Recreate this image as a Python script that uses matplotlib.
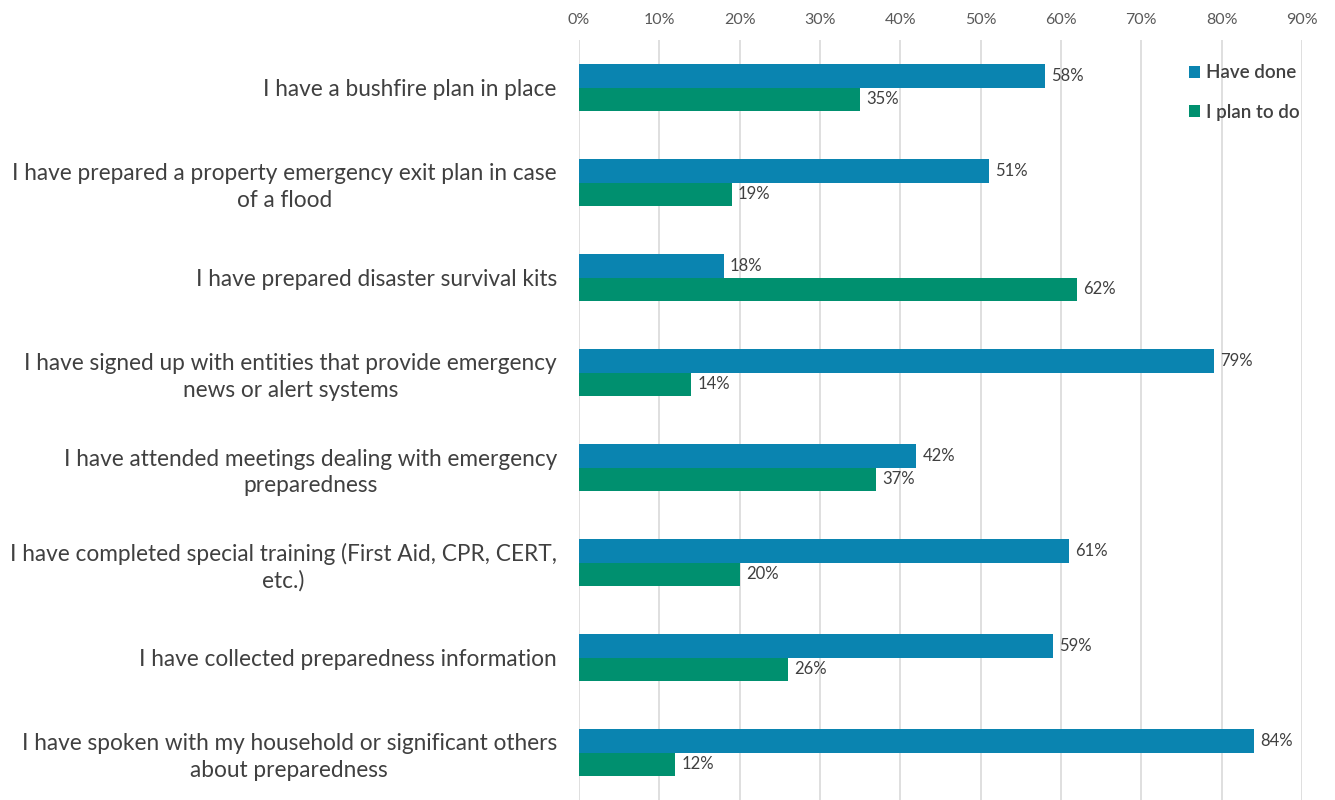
import matplotlib.pyplot as plt
import numpy as np

plt.rcParams['font.family'] = ['Lato', 'DejaVu Sans']

categories = [
    "I have a bushfire plan in place",
    "I have prepared a property emergency exit plan in case\nof a flood",
    "I have prepared disaster survival kits",
    "I have signed up with entities that provide emergency\nnews or alert systems",
    "I have attended meetings dealing with emergency\npreparedness",
    "I have completed special training (First Aid, CPR, CERT,\netc.)",
    "I have collected preparedness information",
    "I have spoken with my household or significant others\nabout preparedness",
]
have_done = [58, 51, 18, 79, 42, 61, 59, 84]
plan_to_do = [35, 19, 62, 14, 37, 20, 26, 12]
x_ticks = [0, 10, 20, 30, 40, 50, 60, 70, 80, 90]

blue = '#0A84B0'
green = '#00906F'

fig = plt.figure(figsize=(13.35, 8), dpi=100)
ax = fig.add_axes([0.4337, 0.0, 0.9753 - 0.4337, 0.95])

y = np.arange(len(categories))
h = 0.25
ax.barh(y - h / 2, have_done, height=h, color=blue, label='Have done', zorder=3)
ax.barh(y + h / 2, plan_to_do, height=h, color=green, label='I plan to do', zorder=3)

# value labels
for i in range(len(categories)):
    ax.text(have_done[i] + 0.8, y[i] - h / 2, f"{have_done[i]}%", va='center', ha='left',
            fontsize=12, color='#404040')
    ax.text(plan_to_do[i] + 0.8, y[i] + h / 2, f"{plan_to_do[i]}%", va='center', ha='left',
            fontsize=12, color='#404040')

ax.set_xlim(0, 90)
ax.set_ylim(len(categories) - 0.5, -0.5)
ax.set_xticks(x_ticks)
ax.set_xticklabels([f"{t}%" for t in x_ticks], fontsize=11.5, color='#595959')
ax.xaxis.tick_top()
ax.tick_params(axis='x', length=0, pad=9)
ax.set_yticks(y)
ax.set_yticklabels(categories, fontsize=16.3, color='#404040', linespacing=1.3)
for lbl in ax.get_yticklabels():
    lbl.set_multialignment('center')
ax.tick_params(axis='y', length=0, pad=16)
ax.grid(axis='x', color='#D9D9D9', linewidth=1.2, zorder=0)
for s in ax.spines.values():
    s.set_visible(False)

leg = ax.legend(loc='upper right', bbox_to_anchor=(1.02, 0.99), frameon=False,
                fontsize=13.5, handlelength=0.6, handleheight=0.6, handletextpad=0.3,
                labelspacing=1.2)
for t in leg.get_texts():
    t.set_color('#404040')
    t.set_fontweight('semibold')

fig.savefig('out.png', dpi=100)
